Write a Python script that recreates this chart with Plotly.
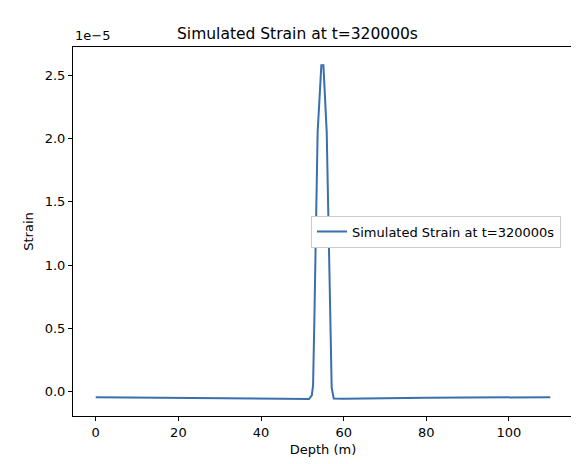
import plotly.graph_objects as go

# depth (m) and strain (units of 1e-5)
depth = [0, 20, 40, 50, 51.6, 52.3, 52.6, 52.9, 53.7, 54.6, 55.1, 55.9, 56.8, 57.1, 57.6, 60, 80, 100, 110]
strain = [-0.045, -0.05, -0.058, -0.062, -0.06, -0.03, 0.05, 0.55, 2.05, 2.58, 2.58, 2.05, 0.55, 0.03, -0.055, -0.058, -0.05, -0.045, -0.045]

yticks = [0.0, 0.5, 1.0, 1.5, 2.0, 2.5]
xticks = [0, 20, 40, 60, 80, 100]
label = "Simulated Strain at t=320000s"

fig = go.Figure()
fig.add_trace(go.Scatter(x=depth, y=strain, mode="lines", name=label,
                         line=dict(color="#3a6fad", width=2)))

ax = dict(showgrid=False, zeroline=False, showline=True, mirror=True,
          linecolor="black", linewidth=1, ticks="outside", ticklen=4,
          tickcolor="black", automargin=False, tickfont=dict(size=13))
fig.update_layout(
    width=579, height=464,
    margin=dict(l=65, r=14, t=39, b=56),
    plot_bgcolor="white", paper_bgcolor="white",
    font=dict(family="DejaVu Sans", size=13, color="black"),
    title=dict(text=label, x=0.5, xanchor="center", y=0.945, yanchor="middle",
               font=dict(size=15.5)),
    showlegend=True,
    legend=dict(x=0.976, y=0.5, xanchor="right", yanchor="middle",
                bordercolor="#cccccc", borderwidth=1, bgcolor="white",
                font=dict(size=13)),
    xaxis=dict(title=dict(text="Depth (m)", standoff=6, font=dict(size=13)),
               range=[-5.5, 115.5], tickvals=xticks, **ax),
    yaxis=dict(title=dict(text="Strain", standoff=8, font=dict(size=13)),
               range=[-0.194, 2.725], tickvals=yticks, tickformat=".1f", **ax),
)
fig.add_annotation(text="1e\u22125", xref="paper", yref="paper", x=0, y=1.005,
                   xanchor="left", yanchor="bottom", showarrow=False,
                   font=dict(size=13))
fig.write_html("out.html")
